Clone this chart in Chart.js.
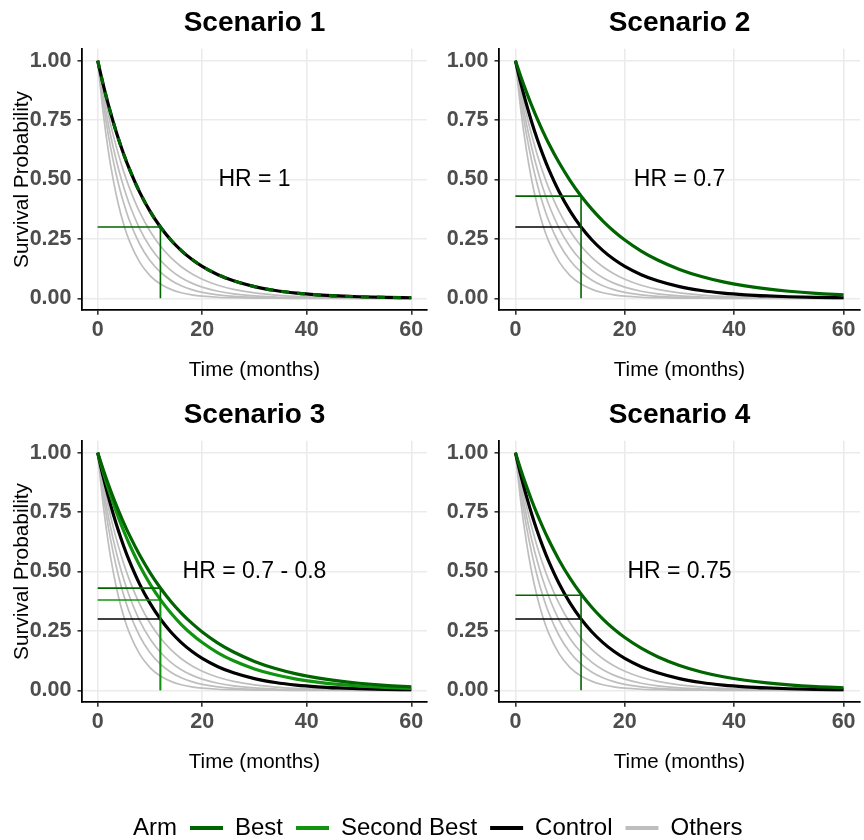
<!DOCTYPE html>
<html><head><meta charset="utf-8">
<script src="https://cdn.jsdelivr.net/npm/chart.js@4.4.0/dist/chart.umd.min.js"></script>
<style>
html,body{margin:0;padding:0;background:#fff;}
#wrap{position:relative;width:864px;height:840px;background:#fff;overflow:hidden;}
canvas{position:absolute;}
</style></head><body>
<div id="wrap">
<canvas id="c1" width="432" height="400" style="left:0px;top:0px"></canvas>
<canvas id="c2" width="432" height="400" style="left:432px;top:0px"></canvas>
<canvas id="c3" width="432" height="400" style="left:0px;top:392px"></canvas>
<canvas id="c4" width="432" height="400" style="left:432px;top:392px"></canvas>
<canvas id="leg" width="864" height="140" style="left:0px;top:792px"></canvas>
</div>
<script>
// ---------------- data ----------------
const timeMonths = [0,1,2,3,4,5,6,8,10,12,14,16,18,20,23,26,30,34,38,42,46,50,55,60];
const controlSurv = [1,0.9045,0.8182,0.7401,0.6694,0.6055,0.5477,0.4481,0.3667,0.3000,0.2455,0.2008,0.1643,0.1344,0.0995,0.0737,0.0493,0.0330,0.0221,0.0148,0.0099,0.0066,0.0040,0.0024];
const hr070Surv = [1,0.9322,0.8690,0.8100,0.7551,0.7038,0.6561,0.5702,0.4954,0.4305,0.3741,0.3251,0.2825,0.2455,0.1989,0.1611,0.1216,0.0918,0.0693,0.0524,0.0395,0.0298,0.0210,0.0148];
const hr080Surv = [1,0.9229,0.8517,0.7860,0.7254,0.6694,0.6178,0.5262,0.4481,0.3817,0.3251,0.2769,0.2358,0.2009,0.1578,0.1241,0.0900,0.0653,0.0474,0.0344,0.0249,0.0181,0.0121,0.0081];
const hr075Surv = [1,0.9275,0.8603,0.7979,0.7401,0.6864,0.6367,0.5477,0.4712,0.4054,0.3488,0.3000,0.2581,0.2220,0.1772,0.1414,0.1046,0.0774,0.0573,0.0424,0.0314,0.0232,0.0159,0.0109];
const others1 = [1,0.8814,0.7769,0.6848,0.6036,0.5321,0.4690,0.3644,0.2831,0.2200,0.1709,0.1328,0.1032,0.0802,0.0549,0.0376,0.0227,0.0137,0.0083,0.0050,0.0030,0.0018,0.0010,0.0005];
const others2 = [1,0.8584,0.7368,0.6325,0.5429,0.4660,0.4000,0.2947,0.2172,0.1600,0.1179,0.0869,0.0640,0.0472,0.0298,0.0189,0.0102,0.0056,0.0030,0.0016,0.0009,0.0005,0.0002,0.0001];
const others3 = [1,0.8320,0.6922,0.5760,0.4792,0.3987,0.3317,0.2296,0.1590,0.1100,0.0761,0.0527,0.0365,0.0253,0.0146,0.0084,0.0040,0.0019,0.0009,0.0004,0.0002,0.0001,0,0];
const others4 = [1,0.7910,0.6256,0.4949,0.3914,0.3096,0.2449,0.1532,0.0958,0.0600,0.0375,0.0235,0.0147,0.0092,0.0045,0.0023,0.0009,0.0003,0.0001,0,0,0,0,0];

const scenarioTitles = ['Scenario 1','Scenario 2','Scenario 3','Scenario 4'];
const hrLabels = ['HR = 1','HR = 0.7','HR = 0.7 - 0.8','HR = 0.75'];
const hrLabelPos = [30, 0.5];
const landmarkTime = 12;
const controlAt12 = 0.30;
const bestAt12 = [0.30, 0.43, 0.43, 0.40];
const secondAt12 = [null, null, 0.38, null];
const xTicks = [0,20,40,60];
const xTickLabels = ['0','20','40','60'];
const yTicks = [0,0.25,0.5,0.75,1];
const yTickLabels = ['0.00','0.25','0.50','0.75','1.00'];
const legendLabels = ['Arm','Best','Second Best','Control','Others'];

// ---------------- styling ----------------
const FONT = "'Liberation Sans', Arial, Helvetica, sans-serif";
Chart.defaults.font.family = FONT;
const C_BEST = '#006400', C_SECOND = '#109410', C_CONTROL = '#000000', C_OTHERS = '#BEBEBE';

const toXY = vals => timeMonths.map((t,i)=>({x:t, y:vals[i]}));
function curve(vals, color, width, order, dash) {
  return {data: toXY(vals), borderColor: color, borderWidth: width, pointRadius: 0,
    cubicInterpolationMode: 'monotone', fill: false, order: order, borderDash: dash || [], borderCapStyle: 'butt'};
}
function seg(pts, color, order) {
  return {data: pts, borderColor: color, borderWidth: 1.6, pointRadius: 0, tension: 0, fill: false, order: order};
}

function buildDatasets(k) {
  const ds = [];
  [others1, others2, others3, others4].forEach(g => ds.push(curve(g, C_OTHERS, 1.7, 50)));
  ds.push(curve(controlSurv, C_CONTROL, 3.2, 30));
  if (k === 0) ds.push(curve(controlSurv, C_BEST, 3.2, 10, [8,8]));
  if (k === 1) ds.push(curve(hr070Surv, C_BEST, 3.2, 10));
  if (k === 2) { ds.push(curve(hr080Surv, C_SECOND, 3.2, 20)); ds.push(curve(hr070Surv, C_BEST, 3.2, 10)); }
  if (k === 3) ds.push(curve(hr075Surv, C_BEST, 3.2, 10));
  if (k !== 0) ds.push(seg([{x:0,y:controlAt12},{x:landmarkTime,y:controlAt12}], C_CONTROL, 3));
  ds.push(seg([{x:0,y:bestAt12[k]},{x:landmarkTime,y:bestAt12[k]}], C_BEST, 2));
  ds.push(seg([{x:landmarkTime,y:0},{x:landmarkTime,y:bestAt12[k]}], C_BEST, 2));
  if (secondAt12[k] !== null) {
    ds.push(seg([{x:0,y:secondAt12[k]},{x:landmarkTime,y:secondAt12[k]}], C_SECOND, 1));
    ds.push(seg([{x:landmarkTime,y:0},{x:landmarkTime,y:secondAt12[k]}], C_SECOND, 1));
  }
  return ds;
}

function makePanel(id, k, leftPanel) {
  const yWidth = leftPanel ? 82 : 67;
  const rightPad = leftPanel ? 5 : 4;
  const textPlugin = {
    id: 'panelText' + k,
    afterDatasetsDraw(chart) {
      const {ctx, chartArea, scales} = chart;
      ctx.save();
      ctx.fillStyle = '#000'; ctx.textAlign = 'center'; ctx.textBaseline = 'middle';
      ctx.font = '23px ' + FONT;
      ctx.fillText(hrLabels[k], scales.x.getPixelForValue(hrLabelPos[0]), scales.y.getPixelForValue(hrLabelPos[1]));
      ctx.font = 'bold 28px ' + FONT;
      ctx.fillText(scenarioTitles[k], (chartArea.left + chartArea.right)/2, chartArea.top - 25.5);
      ctx.restore();
    }
  };
  return new Chart(document.getElementById(id), {
    type: 'line',
    data: {datasets: buildDatasets(k)},
    plugins: [textPlugin],
    options: {
      responsive: false, animation: false, devicePixelRatio: 1,
      layout: {padding: {top: 48.8, right: rightPad, left: 0, bottom: 0}},
      plugins: {legend: {display: false}, tooltip: {enabled: false}, title: {display: false}},
      scales: {
        x: {
          type: 'linear', min: -3, max: 63,
          afterBuildTicks: s => { s.ticks = xTicks.map(v => ({value: v})); },
          afterFit: s => { s.height = 89.8; s.paddingLeft = 0; s.paddingRight = 0; },
          ticks: {callback: (v, i) => xTickLabels[i], font: {size: 21.5, weight: 'bold'}, color: '#4d4d4d', padding: 2, maxRotation: 0, autoSkip: false},
          grid: {color: '#ebebeb', lineWidth: 1.6, tickColor: '#333333', tickLength: 4.5, drawTicks: true},
          border: {display: true, color: '#000', width: 1.8},
          title: {display: true, text: 'Time (months)', font: {size: 20.5}, color: '#000', padding: {top: 0, bottom: 17}}
        },
        y: {
          type: 'linear', min: -0.05, max: 1.05,
          afterBuildTicks: s => { s.ticks = yTicks.map(v => ({value: v})); },
          afterFit: s => { s.width = yWidth; s.paddingTop = 0; s.paddingBottom = 0; },
          ticks: {callback: (v, i) => yTickLabels[i], font: {size: 21.5, weight: 'bold'}, color: '#4d4d4d', padding: 6, autoSkip: false},
          grid: {color: '#ebebeb', lineWidth: 1.6, tickColor: '#333333', tickLength: 4.5, drawTicks: true},
          border: {display: true, color: '#000', width: 1.8},
          title: {display: leftPanel, text: 'Survival Probability', font: {size: 20.8}, color: '#000', padding: {top: 9.5, bottom: 0}}
        }
      }
    }
  });
}

makePanel('c1', 0, true);
makePanel('c2', 1, false);
makePanel('c3', 2, true);
makePanel('c4', 3, false);

// ---------------- shared legend ----------------
const legendColors = ['rgba(0,0,0,0)', C_BEST, C_SECOND, C_CONTROL, C_OTHERS];
new Chart(document.getElementById('leg'), {
  type: 'line',
  data: {datasets: legendLabels.map((lab, i) => ({label: lab, data: [], backgroundColor: legendColors[i], borderColor: legendColors[i], borderWidth: 0}))},
  options: {
    responsive: false, animation: false, devicePixelRatio: 1,
    layout: {padding: {left: 75, top: 11, right: 0, bottom: 0}},
    scales: {x: {display: false}, y: {display: false}},
    plugins: {
      tooltip: {enabled: false},
      legend: {display: true, position: 'top', align: 'start',
        labels: {boxWidth: 33, boxHeight: 4, padding: 13, color: '#000', font: {size: 24}}}
    }
  }
});
</script>
</body></html>
